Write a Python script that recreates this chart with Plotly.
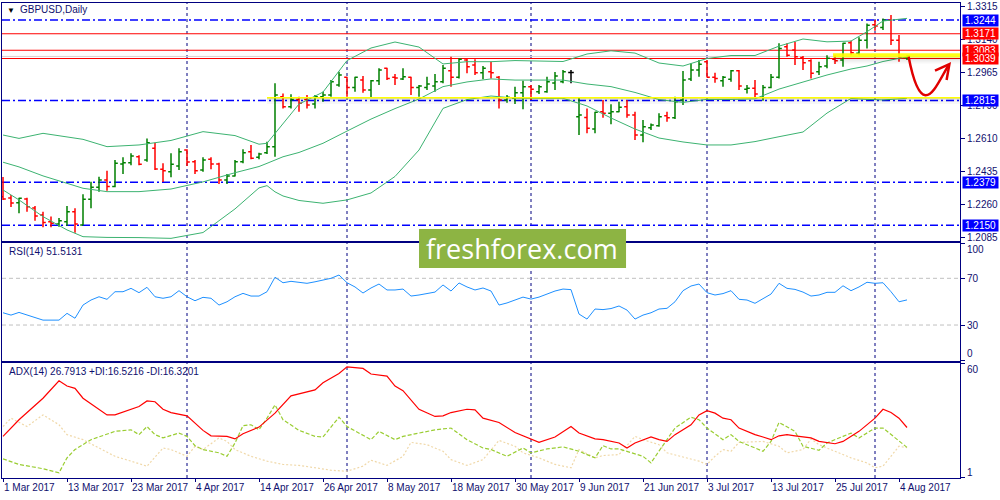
import pandas as pd
import plotly.graph_objects as go
from plotly.subplots import make_subplots

# daily GBPUSD bars, 1 Mar 2017 .. 7 Aug 2017 (weekdays)
dates = pd.bdate_range("2017-03-01", "2017-08-07")

opens = [
    1.2302, 1.2295, 1.2270, 1.2290, 1.2242, 1.2205, 1.2169, 1.2157, 1.2169, 1.2222,
    1.2151, 1.2288, 1.2352, 1.2391, 1.2356, 1.2477, 1.2483, 1.2515, 1.2498, 1.2560,
    1.2448, 1.2435, 1.2466, 1.2551, 1.2489, 1.2445, 1.2502, 1.2477, 1.2391, 1.2413,
    1.2489, 1.2542, 1.2512, 1.2537, 1.2569, 1.2835, 1.2782, 1.2821, 1.2821, 1.2796,
    1.2835, 1.2844, 1.2898, 1.2939, 1.2885, 1.2924, 1.2871, 1.2920, 1.2987, 1.2939,
    1.2930, 1.2939, 1.2885, 1.2885, 1.2892, 1.2915, 1.2974, 1.2939, 1.3031, 1.3004,
    1.2963, 1.2968, 1.2939, 1.2818, 1.2827, 1.2857, 1.2889, 1.2862, 1.2862, 1.2908,
    1.2915, 1.2965, 1.2729, 1.2725, 1.2663, 1.2755, 1.2747, 1.2755, 1.2782, 1.2738,
    1.2631, 1.2670, 1.2681, 1.2734, 1.2723, 1.2818, 1.2930, 1.2978, 1.3022, 1.2939,
    1.2920, 1.2928, 1.2974, 1.2875, 1.2880, 1.2832, 1.2885, 1.2939, 1.3102, 1.3084,
    1.3045, 1.3027, 1.2968, 1.2999, 1.3035, 1.3031, 1.3123, 1.3067, 1.3137, 1.3219,
    1.3205, 1.3244, 1.3137, 1.3045]
highs = [
    1.2407, 1.2311, 1.2297, 1.2297, 1.2253, 1.2222, 1.2196, 1.2189, 1.2253, 1.2240,
    1.2315, 1.2382, 1.2409, 1.2441, 1.2498, 1.2512, 1.2534, 1.2523, 1.2613, 1.2590,
    1.2480, 1.2534, 1.2560, 1.2555, 1.2498, 1.2512, 1.2512, 1.2483, 1.2423, 1.2498,
    1.2555, 1.2578, 1.2537, 1.2595, 1.2907, 1.2853, 1.2848, 1.2835, 1.2844, 1.2844,
    1.2862, 1.2924, 1.2968, 1.2942, 1.2942, 1.2946, 1.2924, 1.2987, 1.2990, 1.2956,
    1.2987, 1.2942, 1.2898, 1.2942, 1.2956, 1.3004, 1.3048, 1.3040, 1.3040, 1.3035,
    1.2999, 1.3022, 1.2946, 1.2844, 1.2889, 1.2920, 1.2898, 1.2898, 1.2942, 1.2967,
    1.2978, 1.2978, 1.2830, 1.2773, 1.2755, 1.2818, 1.2795, 1.2809, 1.2818, 1.2755,
    1.2711, 1.2693, 1.2747, 1.2755, 1.2835, 1.2972, 1.3013, 1.3031, 1.3031, 1.2963,
    1.2946, 1.2978, 1.2978, 1.2898, 1.2924, 1.2898, 1.2956, 1.3120, 1.3120, 1.3128,
    1.3052, 1.3035, 1.3022, 1.3057, 1.3057, 1.3123, 1.3134, 1.3152, 1.3226, 1.3244,
    1.3253, 1.3271, 1.3164, 1.3057]
lows = [
    1.2285, 1.2247, 1.2214, 1.2222, 1.2174, 1.2139, 1.2139, 1.2142, 1.2146, 1.2110,
    1.2150, 1.2240, 1.2329, 1.2334, 1.2352, 1.2423, 1.2470, 1.2470, 1.2489, 1.2445,
    1.2381, 1.2406, 1.2445, 1.2466, 1.2423, 1.2435, 1.2448, 1.2370, 1.2370, 1.2410,
    1.2480, 1.2502, 1.2502, 1.2530, 1.2515, 1.2773, 1.2773, 1.2755, 1.2773, 1.2773,
    1.2809, 1.2835, 1.2889, 1.2835, 1.2862, 1.2857, 1.2832, 1.2898, 1.2924, 1.2898,
    1.2924, 1.2844, 1.2835, 1.2871, 1.2862, 1.2907, 1.2889, 1.2933, 1.2960, 1.2951,
    1.2928, 1.2933, 1.2773, 1.2803, 1.2796, 1.2768, 1.2818, 1.2850, 1.2857, 1.2871,
    1.2907, 1.2907, 1.2631, 1.2640, 1.2640, 1.2723, 1.2688, 1.2752, 1.2723, 1.2604,
    1.2592, 1.2658, 1.2675, 1.2702, 1.2716, 1.2791, 1.2919, 1.2942, 1.2938, 1.2910,
    1.2889, 1.2915, 1.2871, 1.2853, 1.2832, 1.2814, 1.2880, 1.2933, 1.3048, 1.3004,
    1.2978, 1.2933, 1.2951, 1.2987, 1.3010, 1.2995, 1.3057, 1.3057, 1.3093, 1.3187,
    1.3191, 1.3111, 1.3022, 1.3031]
closes = [
    1.2290, 1.2269, 1.2294, 1.2249, 1.2199, 1.2164, 1.2160, 1.2174, 1.2222, 1.2157,
    1.2288, 1.2352, 1.2391, 1.2356, 1.2480, 1.2483, 1.2519, 1.2475, 1.2590, 1.2450,
    1.2441, 1.2475, 1.2542, 1.2487, 1.2441, 1.2498, 1.2477, 1.2391, 1.2413, 1.2489,
    1.2537, 1.2507, 1.2530, 1.2569, 1.2844, 1.2782, 1.2821, 1.2800, 1.2791, 1.2835,
    1.2844, 1.2915, 1.2951, 1.2885, 1.2939, 1.2871, 1.2920, 1.2978, 1.2933, 1.2935,
    1.2942, 1.2885, 1.2892, 1.2903, 1.2915, 1.2987, 1.2939, 1.3035, 1.2995, 1.2963,
    1.2987, 1.2963, 1.2818, 1.2832, 1.2857, 1.2889, 1.2875, 1.2889, 1.2915, 1.2946,
    1.2968, 1.2965, 1.2738, 1.2667, 1.2752, 1.2747, 1.2755, 1.2779, 1.2738, 1.2631,
    1.2675, 1.2684, 1.2729, 1.2723, 1.2809, 1.2924, 1.2978, 1.3008, 1.2939, 1.2933,
    1.2939, 1.2974, 1.2892, 1.2880, 1.2850, 1.2885, 1.2939, 1.3093, 1.3057, 1.3048,
    1.3016, 1.2960, 1.2995, 1.3040, 1.3027, 1.3120, 1.3070, 1.3137, 1.3217, 1.3212,
    1.3244, 1.3137, 1.3045, 1.3052]

# Bollinger bands (20), read at these bar numbers
bb_idx = [0, 2, 5, 8, 10, 13, 17, 21, 25, 29, 32, 33, 34, 35, 37, 40, 43, 46, 49, 52,
          55, 58, 61, 64, 67, 70, 73, 76, 79, 82, 85, 88, 91, 94, 97, 100, 103, 106, 108, 110, 113]
bb_upper = [1.2631, 1.2613, 1.2640, 1.2622, 1.2608, 1.2569, 1.2578, 1.2602, 1.2649, 1.2628,
            1.2582, 1.2587, 1.2640, 1.2695, 1.2796, 1.2860, 1.3028, 1.3095, 1.3127, 1.3100,
            1.3010, 1.3022, 1.3022, 1.3028, 1.3026, 1.3023, 1.3063, 1.3080, 1.3068, 1.3015,
            1.2999, 1.3039, 1.3055, 1.3055, 1.3105, 1.3143, 1.3128, 1.3132, 1.3182, 1.3239, 1.3253]
bb_mid = [1.2486, 1.2461, 1.2413, 1.2373, 1.2347, 1.2329, 1.2329, 1.2343, 1.2381, 1.2430,
          1.2463, 1.2480, 1.2498, 1.2515, 1.2538, 1.2587, 1.2652, 1.2716, 1.2772, 1.2823,
          1.2889, 1.2914, 1.2930, 1.2924, 1.2924, 1.2924, 1.2903, 1.2889, 1.2858, 1.2820,
          1.2805, 1.2821, 1.2821, 1.2824, 1.2876, 1.2914, 1.2951, 1.2983, 1.2999, 1.3023, 1.3048]
bb_lower = [1.2338, 1.2285, 1.2196, 1.2125, 1.2089, 1.2085, 1.2084, 1.2080, 1.2111, 1.2237,
            1.2349, 1.2361, 1.2328, 1.2306, 1.2282, 1.2267, 1.2285, 1.2322, 1.2410, 1.2551,
            1.2773, 1.2820, 1.2839, 1.2828, 1.2827, 1.2827, 1.2786, 1.2722, 1.2663, 1.2615,
            1.2594, 1.2578, 1.2578, 1.2596, 1.2622, 1.2647, 1.2748, 1.2826, 1.2821, 1.2818, 1.2827]

rsi = [
    40.5, 38.5, 40.8, 38.5, 36.6, 34.2, 34.2, 34.2, 40.0, 35.8,
    47.1, 51.4, 54.2, 52.0, 58.5, 58.5, 61.4, 57.7, 62.3, 54.2,
    52.9, 54.2, 59.4, 54.2, 50.8, 53.7, 52.9, 47.1, 49.9, 54.2,
    57.1, 54.8, 54.8, 58.5, 70.9, 66.2, 67.4, 66.4, 65.7, 67.0,
    68.5, 70.0, 72.8, 66.2, 62.6, 57.4, 61.7, 65.1, 60.0, 60.0,
    60.8, 54.8, 55.7, 56.9, 58.2, 64.3, 59.1, 66.0, 62.6, 60.0,
    61.7, 59.1, 47.1, 48.9, 51.4, 53.9, 52.2, 53.9, 56.5, 59.1,
    60.8, 60.3, 39.4, 35.1, 43.7, 43.2, 44.1, 46.3, 42.8, 35.1,
    38.5, 40.5, 43.7, 44.3, 49.9, 59.4, 63.4, 65.1, 57.7, 55.7,
    56.9, 59.4, 52.0, 51.4, 48.6, 52.2, 56.5, 65.7, 61.4, 60.5,
    58.2, 54.8, 55.7, 58.0, 58.0, 63.6, 59.4, 62.6, 66.6, 65.7,
    66.2, 58.5, 49.9, 51.5]

adx_idx = [0, 2, 5, 7, 8, 9, 10, 12, 13, 14, 16, 17, 18, 19, 20, 21, 23, 24, 25, 26,
           28, 29, 30, 32, 34, 36, 39, 40, 42, 43, 45, 46, 48, 49, 50, 52, 54, 55, 56, 58,
           59, 60, 62, 64, 66, 67, 69, 71, 72, 74, 75, 76, 77, 78, 79, 81, 82, 83, 84, 86,
           87, 88, 89, 90, 91, 92, 94, 95, 96, 97, 98, 99, 101, 102, 104, 105, 107, 109, 110, 111,
           112, 113]
adx = [22.2, 30.8, 41.9, 50.9, 48.2, 47.0, 41.9, 35.9, 33.3, 33.3, 36.2, 37.6, 40.5, 40.1, 36.2,
       34.5, 32.8, 29.1, 25.3, 22.5, 22.2, 20.9, 23.6, 27.0, 34.2, 43.1, 46.2, 49.9, 54.7, 58.1,
       57.3, 54.4, 53.3, 48.2, 45.8, 36.2, 32.5, 32.8, 34.5, 36.2, 35.9, 31.6, 29.4, 24.2, 20.9,
       19.1, 21.9, 27.3, 23.9, 20.9, 20.5, 19.6, 18.8, 16.2, 18.8, 21.9, 20.5, 19.6, 23.1, 28.2,
       33.3, 35.5, 34.2, 31.6, 30.8, 26.5, 23.1, 21.9, 20.5, 22.5, 23.1, 22.5, 21.4, 19.6, 18.4,
       19.6, 24.8, 31.6, 36.2, 34.5, 31.6, 26.79]
pdi_idx = [0, 2, 5, 7, 8, 9, 11, 13, 14, 16, 17, 18, 19, 20, 22, 23, 24, 25, 27, 28,
           29, 30, 31, 32, 33, 34, 35, 37, 39, 40, 42, 43, 46, 47, 49, 50, 52, 54, 56, 58,
           60, 61, 63, 65, 66, 68, 70, 72, 74, 75, 76, 77, 80, 81, 82, 83, 84, 86, 87, 88,
           90, 91, 92, 93, 94, 95, 96, 97, 99, 100, 102, 103, 105, 106, 107, 109, 110, 111, 113]
pdi = [10.6, 7.7, 5.5, 3.4, 11.1, 15.4, 20.5, 23.1, 24.8, 25.6, 23.1, 27.3, 23.1, 21.4, 23.9,
       22.2, 17.4, 15.4, 13.7, 11.9, 18.8, 27.7, 28.2, 25.6, 31.6, 38.5, 30.8, 25.3, 22.2, 21.9,
       32.1, 27.3, 20.5, 24.8, 20.5, 22.2, 23.9, 25.6, 26.5, 20.5, 16.2, 15.4, 11.9, 16.2, 13.7,
       15.7, 16.8, 14.5, 11.1, 17.4, 15.7, 15.7, 11.9, 8.5, 14.6, 20.5, 26.5, 32.1, 30.8, 26.5,
       20.5, 23.1, 19.6, 17.9, 16.4, 14.5, 19.6, 29.4, 24.8, 17.1, 15.0, 18.8, 22.2, 23.9, 21.4,
       26.5, 26.5, 23.1, 16.52]
mdi_idx = [0, 1, 3, 5, 7, 8, 10, 12, 14, 16, 18, 20, 21, 23, 24, 25, 27, 28, 29, 31,
           33, 35, 37, 39, 41, 43, 45, 46, 48, 50, 51, 53, 55, 56, 58, 60, 62, 64, 65, 67,
           69, 71, 72, 74, 75, 77, 79, 80, 82, 83, 85, 87, 88, 89, 90, 91, 92, 94, 95, 97,
           98, 100, 101, 102, 104, 106, 108, 109, 110, 111, 112, 113]
mdi = [27.3, 31.6, 27.3, 33.3, 28.2, 23.1, 20.5, 16.2, 11.9, 9.4, 6.8, 16.2, 15.4, 11.9, 17.1,
       15.4, 21.4, 19.6, 15.4, 11.9, 9.4, 7.7, 7.2, 6.0, 4.7, 4.2, 6.8, 9.9, 7.2, 11.9,
       19.1, 17.9, 14.5, 10.2, 7.2, 10.2, 20.1, 17.1, 13.7, 11.1, 7.7, 6.0, 15.4, 11.1, 12.3,
       12.8, 22.2, 20.5, 17.9, 13.7, 11.6, 9.4, 7.7, 11.9, 15.4, 14.5, 19.1, 19.6, 19.6, 17.1,
       13.7, 15.4, 20.9, 17.9, 14.5, 11.1, 8.5, 6.0, 6.8, 11.9, 17.1, 16.32]

blue_levels = [1.3244, 1.2815, 1.2379, 1.2150]
red_levels = [1.3171, 1.3083, 1.3039]
price_ticks = [1.3315, 1.3140, 1.2965, 1.2790, 1.2610, 1.2435, 1.2260, 1.2085]
rsi_levels = [70, 30]

FRAME = "#000080"
TXT = "#10106e"
FONT = "Liberation Sans"
XR = [-0.125, 119.625]

df = pd.DataFrame({"o": opens, "h": highs, "l": lows, "c": closes}, index=dates)
df["x"] = range(len(df))
doji = df[df.o == df.c]
bars = df[df.o != df.c]

fig = make_subplots(rows=3, cols=1, shared_xaxes=True)

fig.add_trace(go.Ohlc(x=bars.x, open=bars.o, high=bars.h, low=bars.l, close=bars.c,
                      increasing_line_color="#008000", decreasing_line_color="#ff0000",
                      tickwidth=0.35, line_width=1.5), row=1, col=1)
fig.add_trace(go.Ohlc(x=doji.x, open=doji.o, high=doji.h, low=doji.l, close=doji.c,
                      increasing_line_color="black", decreasing_line_color="black",
                      tickwidth=0.35, line_width=1.5), row=1, col=1)
for band in (bb_upper, bb_mid, bb_lower):
    fig.add_trace(go.Scatter(x=bb_idx, y=band, mode="lines",
                             line=dict(color="#3cb371", width=1)), row=1, col=1)

fig.add_trace(go.Scatter(x=df.x, y=rsi, mode="lines", line=dict(color="#1e90ff", width=1)),
              row=2, col=1)

fig.add_trace(go.Scatter(x=mdi_idx, y=mdi, mode="lines",
                         line=dict(color="#f0d8a8", width=1.2, dash="2px,2px")), row=3, col=1)
fig.add_trace(go.Scatter(x=pdi_idx, y=pdi, mode="lines",
                         line=dict(color="#9acd32", width=1.2, dash="4px,2px")), row=3, col=1)
fig.add_trace(go.Scatter(x=adx_idx, y=adx, mode="lines", line=dict(color="#ff0000", width=1.2)),
              row=3, col=1)

shapes = []
# month separators
month_starts = [i for i in range(1, len(dates)) if dates[i].month != dates[i - 1].month]
for m in month_starts:
    shapes.append(dict(type="line", xref="x", yref="paper", x0=m, x1=m, y0=0, y1=1, layer="below",
                       line=dict(color=FRAME, width=1, dash="3px,3px")))
for lv in blue_levels:
    shapes.append(dict(type="line", xref="x domain", yref="y", x0=0, x1=1, y0=lv, y1=lv,
                       layer="below", line=dict(color="#0000ff", width=1.6, dash="8px,3px,2px,3px")))
shapes.append(dict(type="line", xref="x domain", yref="y", x0=0, x1=1, y0=1.3050, y1=1.3050,
                   layer="below", line=dict(color="#dcd0d0", width=1)))
for lv in red_levels:
    shapes.append(dict(type="line", xref="x domain", yref="y", x0=0, x1=1, y0=lv, y1=lv,
                       layer="below", line=dict(color="#ff0000", width=1.2)))
for lv in rsi_levels:
    shapes.append(dict(type="line", xref="x2 domain", yref="y2", x0=0, x1=1, y0=lv, y1=lv,
                       layer="below", line=dict(color="#c0c0c0", width=1, dash="4px,3px")))

# yellow highlight zones with soft shadow
shapes.append(dict(type="line", xref="x", yref="y", x0=33, x1=XR[1], y0=1.2830, y1=1.2830,
                   line=dict(color="#ffff00", width=1.5)))
for y0, y1, a in [(1.2828, 1.2818, 0.10), (1.2818, 1.2807, 0.06), (1.2807, 1.2796, 0.03)]:
    shapes.append(dict(type="rect", xref="x", yref="y", x0=33, x1=XR[1], y0=y0, y1=y1,
                       line_width=0, fillcolor=f"rgba(0,0,0,{a})"))
shapes.append(dict(type="rect", xref="x", yref="y", x0=103.75, x1=XR[1], y0=1.3045, y1=1.3067,
                   line_width=0, fillcolor="rgba(255,255,0,0.9)"))
for y0, y1, a in [(1.3045, 1.3034, 0.12), (1.3034, 1.3023, 0.07), (1.3023, 1.3013, 0.03)]:
    shapes.append(dict(type="rect", xref="x", yref="y", x0=103.75, x1=XR[1], y0=y0, y1=y1,
                       line_width=0, fillcolor=f"rgba(0,0,0,{a})"))

# hand drawn red arrow
shapes.append(dict(type="path", xref="x", yref="y",
                   path="M 113.2,1.3048 C 113.6,1.2960 114.3,1.2846 115.3,1.2843 "
                        "C 116.3,1.2840 117.2,1.2935 118.2,1.3004",
                   line=dict(color="#e00000", width=2.5)))
shapes.append(dict(type="path", xref="x", yref="y",
                   path="M 116.5,1.2974 L 118.3,1.3009 L 117.95,1.2924",
                   line=dict(color="#e00000", width=2.5)))

# logo block
shapes.append(dict(type="rect", xref="paper", yref="paper", x0=0.4353, x1=0.6514, y0=0.4421,
                   y1=0.5242, line_width=0, fillcolor="#8db443", layer="above"))

annotations = [
    dict(x=0.003, y=0.9853, xref="paper", yref="paper", text="▼", showarrow=False,
         xanchor="left", yanchor="middle", font=dict(size=8, color="black")),
    dict(x=0.0167, y=0.9853, xref="paper", yref="paper", text="GBPUSD,Daily", showarrow=False,
         xanchor="left", yanchor="middle", font=dict(size=10, color=TXT, family=FONT)),
    dict(x=0.005, y=0.4758, xref="paper", yref="paper", text="RSI(14) 51.5131", showarrow=False,
         xanchor="left", yanchor="middle", font=dict(size=10, color=TXT, family=FONT)),
    dict(x=0.005, y=0.2232, xref="paper", yref="paper",
         text="ADX(14) 26.7913 +DI:16.5216 -DI:16.3201", showarrow=False,
         xanchor="left", yanchor="middle", font=dict(size=10, color=TXT, family=FONT)),
    dict(x=0.5433, y=0.4832, xref="paper", yref="paper", text="freshforex.com", showarrow=False,
         yanchor="middle", font=dict(size=27, color="white", family="Open Sans")),
]
for txt, yp in [("100", 0.4821), ("0", 0.2625), ("60", 0.2288), ("1", 0.0112)]:
    annotations.append(dict(x=1, xshift=5, y=yp, xref="paper", yref="paper", text=txt,
                            showarrow=False, xanchor="left", yanchor="middle",
                            font=dict(size=10, color=TXT, family=FONT)))
for lv, col in [(l, "#0000ff") for l in blue_levels] + [(l, "#ff0000") for l in red_levels]:
    annotations.append(dict(x=1, xshift=2, y=lv, xref="paper", yref="y", text=f"{lv:.4f}",
                            showarrow=False, xanchor="left", yanchor="middle", bgcolor=col,
                            borderpad=0, width=35, height=11,
                            font=dict(size=10, color="white", family=FONT)))

fig.update_xaxes(range=XR, showgrid=False, zeroline=False, showline=True, mirror=True,
                 linecolor=FRAME, linewidth=1, rangeslider_visible=False, automargin=False)
tick_idx = list(df.x[::8])
tick_txt = [f"{d.day} {d:%b %Y}" for d in dates[::8]]
fig.update_xaxes(row=3, col=1, tickmode="array", tickvals=tick_idx, ticktext=tick_txt,
                 ticks="outside", ticklen=3, tickcolor=FRAME, ticklabelposition="outside right",
                 tickangle=0, tickfont=dict(size=10, color=TXT, family=FONT))
fig.update_yaxes(side="right", showgrid=False, zeroline=False, showline=True, mirror=True,
                 linecolor=FRAME, linewidth=1, ticks="outside", ticklen=4, tickcolor=FRAME,
                 automargin=False, tickfont=dict(size=10, color=TXT, family=FONT))

fig.update_layout(
    width=1000, height=500,
    margin=dict(l=2, r=40, t=3, b=22),
    paper_bgcolor="white", plot_bgcolor="rgba(0,0,0,0)",
    showlegend=False, hovermode=False,
    yaxis=dict(domain=[0.499, 1], range=[1.2066, 1.3335], tickmode="array",
               tickvals=price_ticks, tickformat=".4f"),
    yaxis2=dict(domain=[0.2463, 0.4947], range=[-0.8, 100.2], tickmode="array",
                tickvals=[0, 30, 70, 100], ticktext=["", "30", "70", ""]),
    yaxis3=dict(domain=[0, 0.2421], range=[0.7, 60.1], tickmode="array",
                tickvals=[1, 60], ticktext=["", ""]),
    shapes=shapes,
    annotations=annotations,
)

# the page body has a default margin; drop it so the chart sits at the window corner
fig.write_html("out.html", config={"displayModeBar": False},
               post_script="document.body.style.margin='0';document.body.style.overflow='hidden';")
